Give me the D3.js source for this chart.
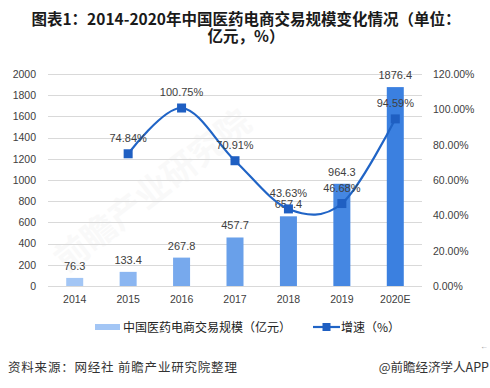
<!DOCTYPE html>
<html>
<head>
<meta charset="utf-8">
<script src="https://cdn.jsdelivr.net/npm/d3@7"></script>
<style>
body { margin:0; background:#fff; }
svg { display:block; }
</style>
</head>
<body>
<div id="chart"></div>
<script>
(function(){
var width = 490,
	height = 388,
	plot = {left:48, right:422, top:74, bottom:286};

// data
var years = ["2014","2015","2016","2017","2018","2019","2020E"];
var scale_values = [76.3, 133.4, 267.8, 457.7, 657.4, 964.3, 1876.4];
var growth_years = ["2015","2016","2017","2018","2019","2020E"];
var growth_values = [74.84, 100.75, 70.91, 43.63, 46.68, 94.59];
var left_ticks = [0,200,400,600,800,1000,1200,1400,1600,1800,2000];
var right_ticks = [0,20,40,60,80,100,120];
var bar_colors = ["#a3c6f5","#8bb6f1","#77a9ed","#69a0ea","#5692e5","#4587e2","#3b80e0"];

var title_lines = ["图表1：2014-2020年中国医药电商交易规模变化情况（单位：","亿元，%）"];
var legend_labels = ["中国医药电商交易规模（亿元）","增速（%）"];
var source_text = "资料来源：网经社  前瞻产业研究院整理";
var brand_text = "@前瞻经济学人APP";

var line_color = "#2064c6",
	marker_color = "#1f5fc2",
	text_color = "#404040",
	grid_color = "#d9d9d9",
	num_font = "'Liberation Sans', Arial, sans-serif",
	cjk_font = "'Noto Sans CJK SC', sans-serif";

var X = d3.scaleBand().domain(years).range([plot.left, plot.right]).paddingInner(0).paddingOuter(0);
var Y = d3.scaleLinear().domain([0,2000]).range([plot.bottom, plot.top]);
var Y2 = d3.scaleLinear().domain([0,120]).range([plot.bottom, plot.top]);
var bar_width = 17;

var svg = d3.select("#chart").append("svg")
	.attr("width", width)
	.attr("height", height);

svg.append("rect").attr("width",width).attr("height",height).attr("fill","#fff");

// title
svg.selectAll(".title").data(title_lines).enter().append("text")
	.attr("class","title")
	.attr("x", 246)
	.attr("y", function(d,i){ return 25 + i*17; })
	.attr("text-anchor","middle")
	.attr("font-family", cjk_font)
	.attr("font-weight","bold")
	.attr("font-size","15.5px")
	.attr("fill","#1a1a1a")
	.text(function(d){ return d; });

// faint watermark
svg.append("text")
	.attr("transform","translate(160,200) rotate(-38)")
	.attr("text-anchor","middle")
	.attr("font-family", cjk_font)
	.attr("font-weight","bold")
	.attr("font-size","34px")
	.attr("fill","#000")
	.attr("opacity",0.02)
	.text("前瞻产业研究院");

// gridlines
svg.append("g").selectAll("line").data(left_ticks).enter().append("line")
	.attr("x1", plot.left).attr("x2", plot.right)
	.attr("y1", function(d){ return Math.round(Y(d))+0.5; })
	.attr("y2", function(d){ return Math.round(Y(d))+0.5; })
	.attr("stroke", grid_color)
	.attr("stroke-width",1);

// left axis
var leftAxis = d3.axisLeft(Y).tickValues(left_ticks).tickSize(0).tickPadding(0).tickFormat(d3.format("d"));
var gl = svg.append("g").attr("transform","translate(36,0)").call(leftAxis);
gl.select(".domain").remove();
gl.selectAll("text").attr("font-family", num_font).attr("font-size","10.5px").attr("fill", text_color);

// right axis
var rightAxis = d3.axisRight(Y2).tickValues(right_ticks).tickSize(0).tickPadding(0)
	.tickFormat(function(d){ return d.toFixed(2)+"%"; });
var gr = svg.append("g").attr("transform","translate(433,0)").call(rightAxis);
gr.select(".domain").remove();
gr.selectAll("text").attr("font-family", num_font).attr("font-size","10.5px").attr("fill", text_color);

// bottom axis
var bottomAxis = d3.axisBottom(X).tickSize(0).tickPadding(0);
var gb = svg.append("g").attr("transform","translate(0,"+(plot.bottom+10)+")").call(bottomAxis);
gb.select(".domain").remove();
gb.selectAll("text").attr("font-family", num_font).attr("font-size","10.5px").attr("fill", text_color);

// bars
svg.append("g").selectAll("rect").data(scale_values).enter().append("rect")
	.attr("x", function(d,i){ return X(years[i]) + X.bandwidth()/2 - bar_width/2; })
	.attr("y", function(d){ return Y(d); })
	.attr("width", bar_width)
	.attr("height", function(d){ return plot.bottom - Y(d); })
	.attr("fill", function(d,i){ return bar_colors[i]; });

svg.append("g").selectAll("text").data(scale_values).enter().append("text")
	.attr("x", function(d,i){ return X(years[i]) + X.bandwidth()/2; })
	.attr("y", function(d){ return Y(d) - 8; })
	.attr("text-anchor","middle")
	.attr("font-family", num_font)
	.attr("font-size","11px")
	.attr("fill", text_color)
	.text(function(d){ return d.toFixed(1); });

// growth line
var gpts = growth_values.map(function(v,i){
	return [X(growth_years[i]) + X.bandwidth()/2, Y2(v)];
});
svg.append("path")
	.attr("d", d3.line().curve(d3.curveCardinal.tension(0))(gpts))
	.attr("fill","none")
	.attr("stroke", line_color)
	.attr("stroke-width",2.2);

svg.append("g").selectAll("rect").data(gpts).enter().append("rect")
	.attr("x", function(d){ return d[0]-4.5; })
	.attr("y", function(d){ return d[1]-4.5; })
	.attr("width",9).attr("height",9)
	.attr("fill", marker_color);

svg.append("g").selectAll("text").data(growth_values).enter().append("text")
	.attr("x", function(d,i){ return gpts[i][0]; })
	.attr("y", function(d,i){ return gpts[i][1] - 12; })
	.attr("text-anchor","middle")
	.attr("font-family", num_font)
	.attr("font-size","11px")
	.attr("fill", text_color)
	.text(function(d){ return d.toFixed(2)+"%"; });

// legend
var lg = svg.append("g");
lg.append("rect").attr("x",95).attr("y",324).attr("width",25).attr("height",6).attr("fill","#a3c6f5");
lg.append("text").attr("x",123).attr("y",331.5)
	.attr("font-family", cjk_font).attr("font-size","12px").attr("fill","#222")
	.text(legend_labels[0]);
lg.append("line").attr("x1",313).attr("x2",340).attr("y1",327).attr("y2",327)
	.attr("stroke", line_color).attr("stroke-width",2.2);
lg.append("rect").attr("x",322.5).attr("y",323).attr("width",8).attr("height",8).attr("fill", marker_color);
lg.append("text").attr("x",341).attr("y",331.5)
	.attr("font-family", cjk_font).attr("font-size","12px").attr("fill","#222")
	.text(legend_labels[1]);

// footer
svg.append("text").attr("x",480).attr("y",349)
	.attr("font-family", num_font).attr("font-size","8px").attr("fill","#999")
	.text("←");
svg.append("text").attr("x",8).attr("y",372)
	.attr("font-family", cjk_font).attr("font-size","12.5px").attr("fill","#333")
	.attr("letter-spacing","0.8px")
	.text(source_text);
svg.append("text").attr("x",489).attr("y",372)
	.attr("text-anchor","end")
	.attr("font-family", cjk_font).attr("font-size","12.5px").attr("fill","#333")
	.text(brand_text);

})()
</script>
</body>
</html>
